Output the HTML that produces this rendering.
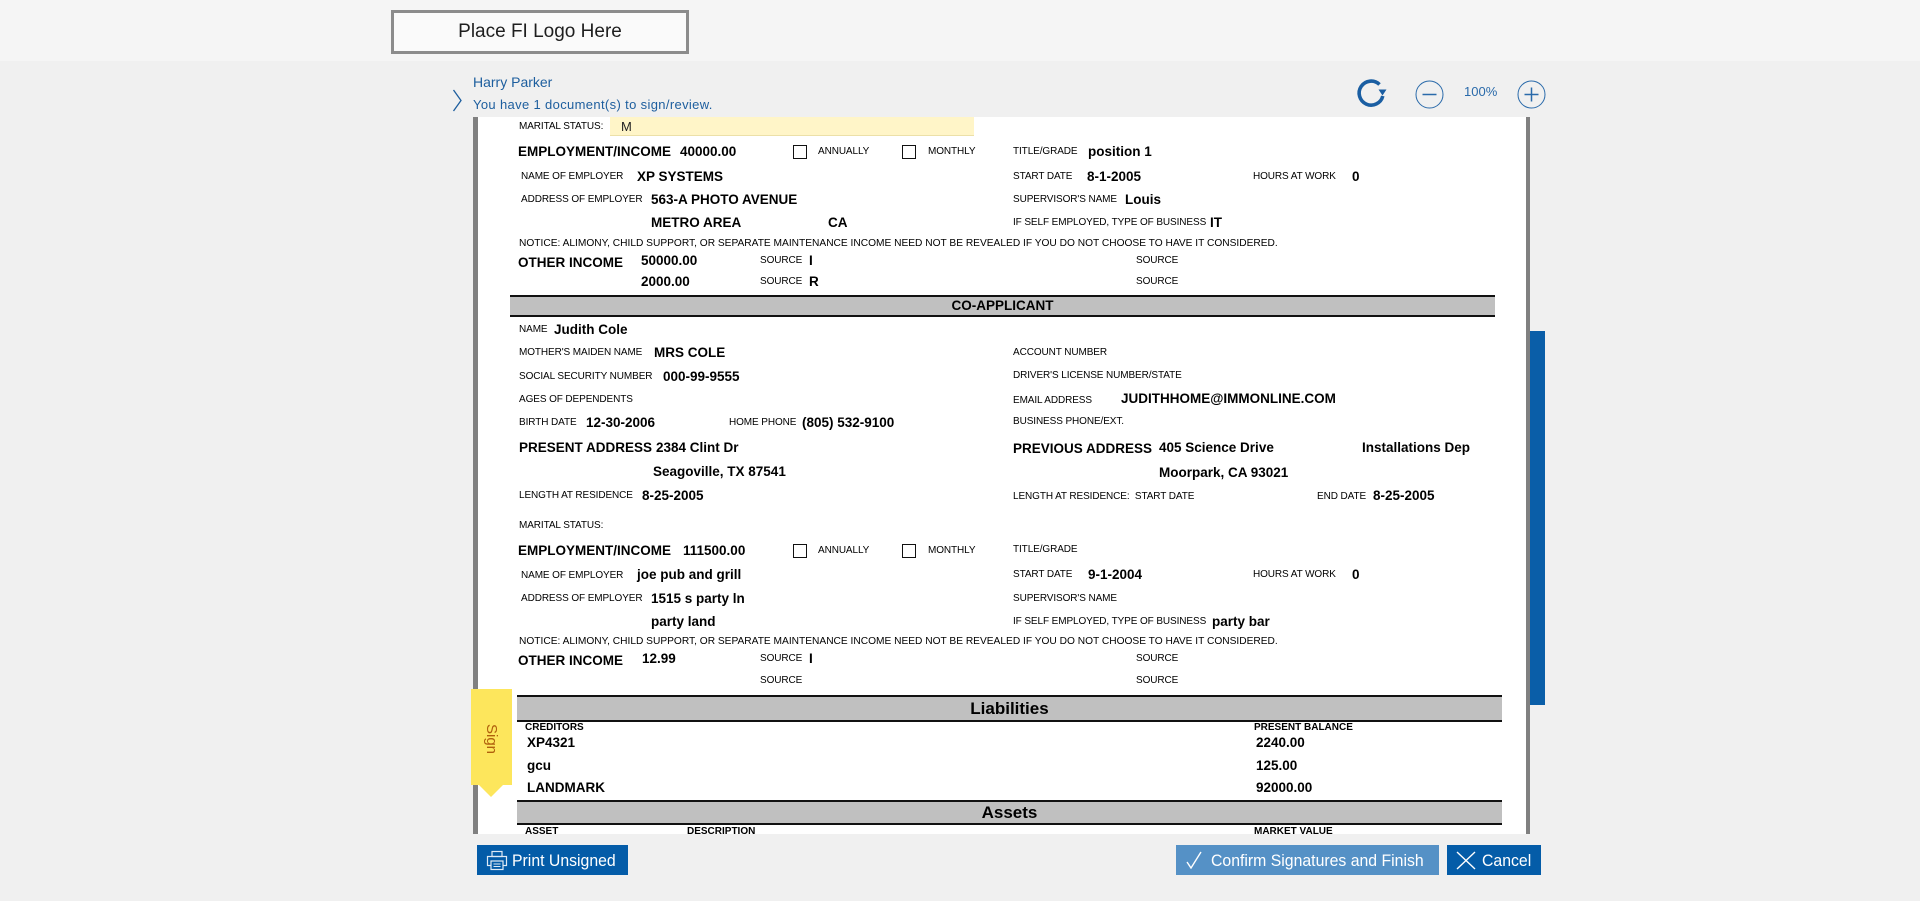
<!DOCTYPE html>
<html><head><meta charset="utf-8">
<style>
*{margin:0;padding:0;box-sizing:border-box}
html,body{width:1920px;height:901px;overflow:hidden;background:#f0f0f0;font-family:"Liberation Sans",Arial,sans-serif;position:relative}
.hdr{position:absolute;left:0;top:0;width:1920px;height:61px;background:#f5f5f5}
.logo{position:absolute;left:391px;top:10px;width:298px;height:44px;border:3px solid #8c8c8c;background:#fafafa;text-align:center;line-height:38px;font-size:19px;color:#1e1e1e}
.doc{position:absolute;left:478px;top:117px;width:1048px;height:717px;overflow:hidden;background:#fff}
.in{position:absolute;left:-478px;top:-117px;width:1920px;height:901px}
.t{position:absolute;white-space:nowrap;line-height:16px;height:16px;color:#000}
.l{font-size:10px;letter-spacing:-0.1px}
.n{font-size:10.2px;letter-spacing:0}
.v{font-size:13.5px;font-weight:bold}
.cb{position:absolute;width:14px;height:14px;border:1.5px solid #111;background:#fff}
.bar{position:absolute;border-top:2px solid #111;border-bottom:2px solid #111;background:#c0c0c0;text-align:center;font-weight:bold;color:#000}
.lb{font-size:10px;font-weight:bold}
.btn{position:absolute;top:845px;height:30px;color:#fff;font-size:17px;line-height:31px;white-space:nowrap}
.btn span.tx{display:inline-block;transform:scaleX(0.93);transform-origin:left center}
.blue{color:#1d5e9e}
</style></head>
<body>
<div class="hdr"></div>
<div class="logo">Place FI Logo Here</div>

<!-- user info -->
<svg style="position:absolute;left:452px;top:89px" width="12" height="23" viewBox="0 0 12 23"><polyline points="1.5,1 9,11.5 1.5,22" fill="none" stroke="#1d5e9e" stroke-width="1.3"/></svg>
<div class="t blue" style="left:473px;top:74px;font-size:14px">Harry Parker</div>
<div class="t blue" style="left:473px;top:97px;font-size:13px;letter-spacing:0.35px">You have 1 document(s) to sign/review.</div>

<!-- toolbar -->
<svg style="position:absolute;left:1355px;top:78px" width="32" height="32" viewBox="0 0 32 32">
<path d="M 24.5 6.5 A 12 12 0 1 0 27.8 18" fill="none" stroke="#1a5ea2" stroke-width="3.6"/>
<polygon points="23.5,11.5 31.5,11.5 27.5,17.5" fill="#1a5ea2"/>
</svg>
<svg style="position:absolute;left:1415px;top:80px" width="29" height="29" viewBox="0 0 29 29">
<circle cx="14.5" cy="14.5" r="13.5" fill="none" stroke="#2a6aaa" stroke-width="1"/>
<line x1="7.5" y1="14.5" x2="21.5" y2="14.5" stroke="#2a6aaa" stroke-width="1.5"/>
</svg>
<div class="t" style="left:1464px;top:84px;font-size:13px;color:#2a6aaa">100%</div>
<svg style="position:absolute;left:1517px;top:80px" width="29" height="29" viewBox="0 0 29 29">
<circle cx="14.5" cy="14.5" r="13.5" fill="none" stroke="#2a6aaa" stroke-width="1"/>
<line x1="7.5" y1="14.5" x2="21.5" y2="14.5" stroke="#2a6aaa" stroke-width="1.5"/>
<line x1="14.5" y1="7.5" x2="14.5" y2="21.5" stroke="#2a6aaa" stroke-width="1.5"/>
</svg>

<!-- document frame -->
<div style="position:absolute;left:473px;top:117px;width:5px;height:717px;background:#808080"></div>
<div style="position:absolute;left:1526px;top:117px;width:4px;height:717px;background:#808080"></div>
<div style="position:absolute;left:1530px;top:331px;width:15px;height:374px;background:#0a5ea8"></div>

<div class="doc"><div class="in">
<!-- applicant (tail) -->
<div style="position:absolute;left:610px;top:108px;width:364px;height:28px;background:#fff5c8;border-bottom:1px solid #ece0a8"></div>
<div class="t" style="left:621px;top:119px;font-size:13px;color:#222">M</div>
<div class="t l" style="left:519px;top:119px">MARITAL STATUS:</div>

<div class="t v" style="left:518px;top:144px">EMPLOYMENT/INCOME</div>
<div class="t v" style="left:680px;top:144px">40000.00</div>
<div class="cb" style="left:793px;top:145px"></div>
<div class="t l" style="left:818px;top:144px">ANNUALLY</div>
<div class="cb" style="left:902px;top:145px"></div>
<div class="t l" style="left:928px;top:144px">MONTHLY</div>
<div class="t l" style="left:1013px;top:144px">TITLE/GRADE</div>
<div class="t v" style="left:1088px;top:144px">position 1</div>

<div class="t l" style="left:521px;top:169px">NAME OF EMPLOYER</div>
<div class="t v" style="left:637px;top:169px">XP SYSTEMS</div>
<div class="t l" style="left:1013px;top:169px">START DATE</div>
<div class="t v" style="left:1087px;top:169px">8-1-2005</div>
<div class="t l" style="left:1253px;top:169px">HOURS AT WORK</div>
<div class="t v" style="left:1352px;top:169px">0</div>

<div class="t l" style="left:521px;top:192px">ADDRESS OF EMPLOYER</div>
<div class="t v" style="left:651px;top:192px">563-A PHOTO AVENUE</div>
<div class="t l" style="left:1013px;top:192px">SUPERVISOR'S NAME</div>
<div class="t v" style="left:1125px;top:192px">Louis</div>

<div class="t v" style="left:651px;top:215px">METRO AREA</div>
<div class="t v" style="left:828px;top:215px">CA</div>
<div class="t l" style="left:1013px;top:215px">IF SELF EMPLOYED, TYPE OF BUSINESS</div>
<div class="t v" style="left:1210px;top:215px">IT</div>

<div class="t n" style="left:519px;top:236px">NOTICE: ALIMONY, CHILD SUPPORT, OR SEPARATE MAINTENANCE INCOME NEED NOT BE REVEALED IF YOU DO NOT CHOOSE TO HAVE IT CONSIDERED.</div>

<div class="t v" style="left:518px;top:255px">OTHER INCOME</div>
<div class="t v" style="left:641px;top:253px">50000.00</div>
<div class="t l" style="left:760px;top:253px">SOURCE</div>
<div class="t v" style="left:809px;top:253px">I</div>
<div class="t l" style="left:1136px;top:253px">SOURCE</div>

<div class="t v" style="left:641px;top:274px">2000.00</div>
<div class="t l" style="left:760px;top:274px">SOURCE</div>
<div class="t v" style="left:809px;top:274px">R</div>
<div class="t l" style="left:1136px;top:274px">SOURCE</div>

<div class="bar" style="left:510px;top:295px;width:985px;height:22px;line-height:18px;font-size:13.5px">CO-APPLICANT</div>

<!-- co-applicant -->
<div class="t l" style="left:519px;top:322px">NAME</div>
<div class="t v" style="left:554px;top:322px">Judith Cole</div>

<div class="t l" style="left:519px;top:345px">MOTHER'S MAIDEN NAME</div>
<div class="t v" style="left:654px;top:345px">MRS COLE</div>
<div class="t l" style="left:1013px;top:345px">ACCOUNT NUMBER</div>

<div class="t l" style="left:519px;top:369px">SOCIAL SECURITY NUMBER</div>
<div class="t v" style="left:663px;top:369px">000-99-9555</div>
<div class="t l" style="left:1013px;top:368px">DRIVER'S LICENSE NUMBER/STATE</div>

<div class="t l" style="left:519px;top:392px">AGES OF DEPENDENTS</div>
<div class="t l" style="left:1013px;top:393px">EMAIL ADDRESS</div>
<div class="t v" style="left:1121px;top:391px">JUDITHHOME@IMMONLINE.COM</div>

<div class="t l" style="left:519px;top:415px">BIRTH DATE</div>
<div class="t v" style="left:586px;top:415px">12-30-2006</div>
<div class="t l" style="left:729px;top:415px">HOME PHONE</div>
<div class="t v" style="left:802px;top:415px">(805) 532-9100</div>
<div class="t l" style="left:1013px;top:414px">BUSINESS PHONE/EXT.</div>

<div class="t v" style="left:519px;top:440px">PRESENT ADDRESS</div>
<div class="t v" style="left:656px;top:440px">2384 Clint Dr</div>
<div class="t v" style="left:1013px;top:441px">PREVIOUS ADDRESS</div>
<div class="t v" style="left:1159px;top:440px">405 Science Drive</div>
<div class="t v" style="left:1362px;top:440px">Installations Dep</div>

<div class="t v" style="left:653px;top:464px">Seagoville, TX 87541</div>
<div class="t v" style="left:1159px;top:465px">Moorpark, CA 93021</div>

<div class="t l" style="left:519px;top:488px">LENGTH AT RESIDENCE</div>
<div class="t v" style="left:642px;top:488px">8-25-2005</div>
<div class="t l" style="left:1013px;top:489px">LENGTH AT RESIDENCE:&nbsp; START DATE</div>
<div class="t l" style="left:1317px;top:489px">END DATE</div>
<div class="t v" style="left:1373px;top:488px">8-25-2005</div>

<div class="t l" style="left:519px;top:518px">MARITAL STATUS:</div>

<div class="t v" style="left:518px;top:543px">EMPLOYMENT/INCOME</div>
<div class="t v" style="left:683px;top:543px">111500.00</div>
<div class="cb" style="left:793px;top:544px"></div>
<div class="t l" style="left:818px;top:543px">ANNUALLY</div>
<div class="cb" style="left:902px;top:544px"></div>
<div class="t l" style="left:928px;top:543px">MONTHLY</div>
<div class="t l" style="left:1013px;top:542px">TITLE/GRADE</div>

<div class="t l" style="left:521px;top:568px">NAME OF EMPLOYER</div>
<div class="t v" style="left:637px;top:567px">joe pub and grill</div>
<div class="t l" style="left:1013px;top:567px">START DATE</div>
<div class="t v" style="left:1088px;top:567px">9-1-2004</div>
<div class="t l" style="left:1253px;top:567px">HOURS AT WORK</div>
<div class="t v" style="left:1352px;top:567px">0</div>

<div class="t l" style="left:521px;top:591px">ADDRESS OF EMPLOYER</div>
<div class="t v" style="left:651px;top:591px">1515 s party ln</div>
<div class="t l" style="left:1013px;top:591px">SUPERVISOR'S NAME</div>

<div class="t v" style="left:651px;top:614px">party land</div>
<div class="t l" style="left:1013px;top:614px">IF SELF EMPLOYED, TYPE OF BUSINESS</div>
<div class="t v" style="left:1212px;top:614px">party bar</div>

<div class="t n" style="left:519px;top:634px">NOTICE: ALIMONY, CHILD SUPPORT, OR SEPARATE MAINTENANCE INCOME NEED NOT BE REVEALED IF YOU DO NOT CHOOSE TO HAVE IT CONSIDERED.</div>

<div class="t v" style="left:518px;top:653px">OTHER INCOME</div>
<div class="t v" style="left:642px;top:651px">12.99</div>
<div class="t l" style="left:760px;top:651px">SOURCE</div>
<div class="t v" style="left:809px;top:651px">I</div>
<div class="t l" style="left:1136px;top:651px">SOURCE</div>

<div class="t l" style="left:760px;top:673px">SOURCE</div>
<div class="t l" style="left:1136px;top:673px">SOURCE</div>

<!-- liabilities -->
<div class="bar" style="left:517px;top:695px;width:985px;height:27px;line-height:23px;font-size:17px">Liabilities</div>
<div class="t lb" style="left:525px;top:720px">CREDITORS</div>
<div class="t lb" style="left:1254px;top:720px">PRESENT BALANCE</div>
<div class="t v" style="left:527px;top:735px">XP4321</div>
<div class="t v" style="left:1256px;top:735px">2240.00</div>
<div class="t v" style="left:527px;top:758px">gcu</div>
<div class="t v" style="left:1256px;top:758px">125.00</div>
<div class="t v" style="left:527px;top:780px">LANDMARK</div>
<div class="t v" style="left:1256px;top:780px">92000.00</div>

<div class="bar" style="left:517px;top:800px;width:985px;height:25px;line-height:21px;font-size:17px">Assets</div>
<div class="t lb" style="left:525px;top:824px">ASSET</div>
<div class="t lb" style="left:687px;top:824px">DESCRIPTION</div>
<div class="t lb" style="left:1254px;top:824px">MARKET VALUE</div>
</div></div>

<!-- sign tab -->
<div style="position:absolute;left:471px;top:689px;width:41px;height:96px;background:#fde65c"></div>
<div style="position:absolute;left:479px;top:785px;width:0;height:0;border-left:12px solid transparent;border-right:12px solid transparent;border-top:12px solid #fde65c"></div>
<div style="position:absolute;left:481px;top:722px;width:20px;height:34px;writing-mode:vertical-rl;font-size:15px;line-height:20px;color:#b0600c;text-align:center">Sign</div>

<!-- buttons -->
<div class="btn" style="left:477px;width:151px;background:#045ca8">
<svg style="position:absolute;left:9px;top:5px" width="22" height="21" viewBox="0 0 22 21">
<rect x="6" y="1.5" width="10" height="5" fill="none" stroke="#dfeaf5" stroke-width="1.2"/>
<rect x="1.5" y="6.5" width="19" height="9" fill="none" stroke="#dfeaf5" stroke-width="1.2"/>
<rect x="5" y="11" width="12" height="8.5" fill="#045ca8" stroke="#dfeaf5" stroke-width="1.2"/>
<line x1="7.5" y1="14" x2="14.5" y2="14" stroke="#dfeaf5" stroke-width="1"/>
<line x1="7.5" y1="16.5" x2="14.5" y2="16.5" stroke="#dfeaf5" stroke-width="1"/>
</svg>
<span class="tx" style="position:absolute;left:35px;top:0">Print Unsigned</span>
</div>
<div class="btn" style="left:1176px;width:263px;background:#5591c6">
<svg style="position:absolute;left:10px;top:6px" width="16" height="18" viewBox="0 0 16 18"><polyline points="1,11 5,17 15,1" fill="none" stroke="#fff" stroke-width="1.4"/></svg>
<span class="tx" style="position:absolute;left:35px;top:0">Confirm Signatures and Finish</span>
</div>
<div class="btn" style="left:1447px;width:94px;background:#045ca8">
<svg style="position:absolute;left:9px;top:6px" width="20" height="19" viewBox="0 0 20 19"><line x1="1" y1="1" x2="19" y2="18" stroke="#fff" stroke-width="1.4"/><line x1="19" y1="1" x2="1" y2="18" stroke="#fff" stroke-width="1.4"/></svg>
<span class="tx" style="position:absolute;left:35px;top:0">Cancel</span>
</div>
</body></html>
